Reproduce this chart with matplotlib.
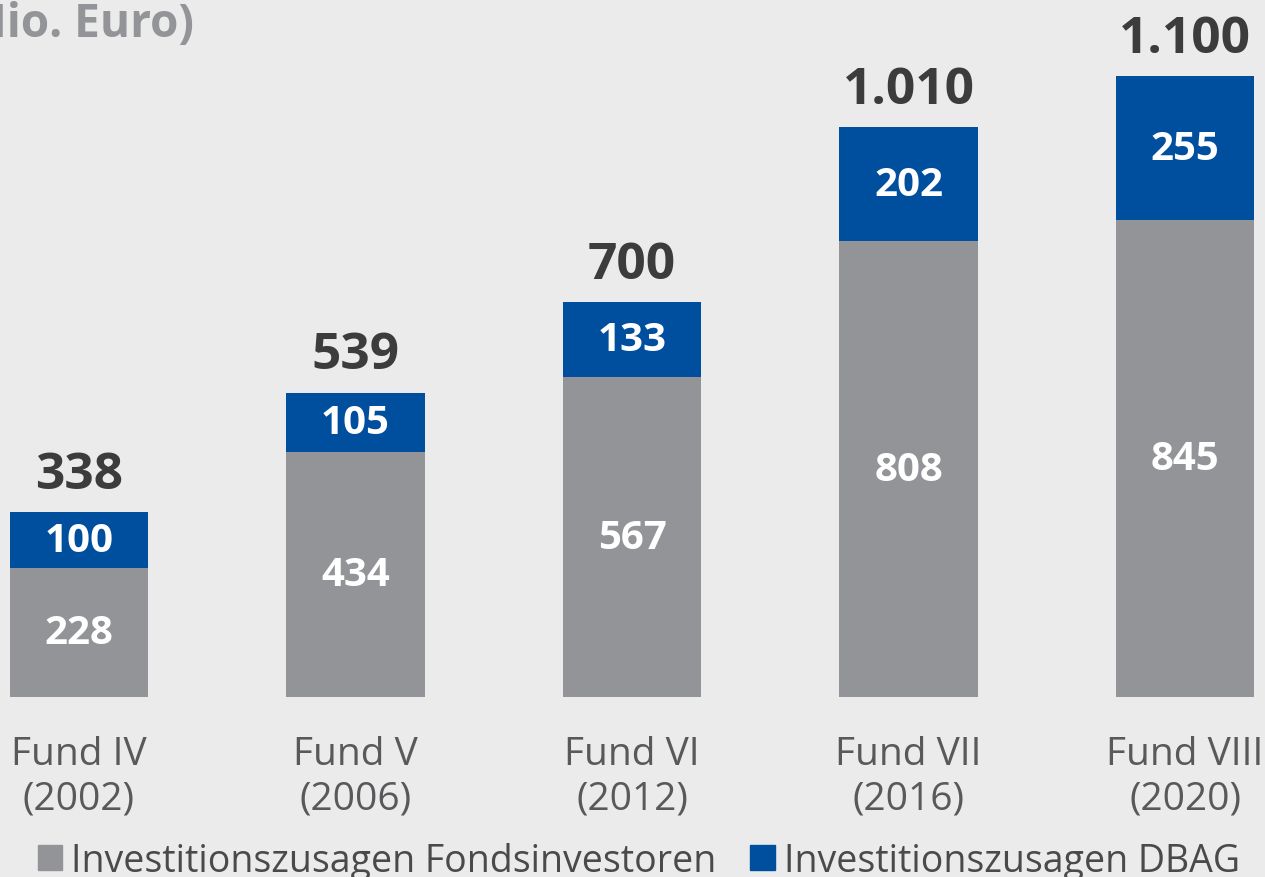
import matplotlib.pyplot as plt
import numpy as np
from matplotlib.patches import Patch

funds = ['Fund IV\n(2002)', 'Fund V\n(2006)', 'Fund VI\n(2012)', 'Fund VII\n(2016)', 'Fund VIII\n(2020)']
fonds = [228, 434, 567, 808, 845]
dbag = [100, 105, 133, 202, 255]
totals = ['338', '539', '700', '1.010', '1.100']

bg = '#ebebeb'
grey = '#939498'
blue = '#004f9f'

plt.rcParams['font.family'] = ['Open Sans', 'DejaVu Sans']

fig = plt.figure(figsize=(12.65, 8.78), dpi=100, facecolor=bg)
ax = fig.add_axes([0, 0.205, 1, 0.795])
ax.set_facecolor(bg)

x = np.arange(len(funds))
ax.bar(x, fonds, width=0.5, color=grey)
ax.bar(x, dbag, width=0.5, bottom=fonds, color=blue)

for i in x:
    ax.text(i, fonds[i] / 2, str(fonds[i]), ha='center', va='center',
            color='white', fontsize=29, fontweight='bold')
    ax.text(i, fonds[i] + dbag[i] / 2, str(dbag[i]), ha='center', va='center',
            color='white', fontsize=29, fontweight='bold')
    ax.text(i, fonds[i] + dbag[i] + 22, totals[i], ha='center', va='bottom',
            color='#3c3c3c', fontsize=37, fontweight='bold')

ax.set_xlim(-0.2857, 4.289)
ax.set_ylim(0, 1237)
ax.set_xticks(x)
ax.set_xticklabels(funds, fontsize=28, color='#58595b', linespacing=1.25)
ax.tick_params(axis='x', length=0, pad=27)
ax.set_yticks([])
for s in ax.spines.values():
    s.set_visible(False)

fig.text(194 / 1265, 0.972, '(Mio. Euro)', fontsize=33, fontweight='bold',
         color=grey, ha='right', va='center')

handles = [Patch(color=grey, label='Investitionszusagen Fondsinvestoren'),
           Patch(color=blue, label='Investitionszusagen DBAG')]
fig.legend(handles=handles, loc='lower center', bbox_to_anchor=(0.505, -0.042), ncol=2,
           frameon=False, fontsize=27, handlelength=0.65, handleheight=0.65,
           handletextpad=0.25, columnspacing=0.9, labelcolor='#4a4a4a')

fig.savefig('out.png', dpi=100, facecolor=bg)
